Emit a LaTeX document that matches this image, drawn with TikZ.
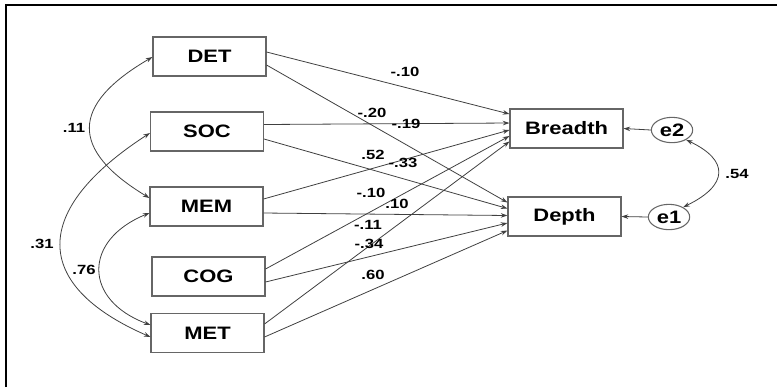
\documentclass[tikz,border=0pt]{standalone}
\usepackage{fontspec}
\setmainfont{Liberation Sans}
\newfontfamily\boxfont[FakeStretch=1.22]{Liberation Sans}
\newfontfamily\lblfont[FakeStretch=1.25]{Liberation Sans}
\usetikzlibrary{arrows.meta,calc,shapes.geometric}
\begin{document}
\begin{tikzpicture}[x=0.75pt,y=-0.75pt,
  var/.style={draw=black!60, line width=0.8pt, fill=white, rectangle,
    minimum width=84.75pt, minimum height=29.25pt, inner sep=0pt,
    font=\boxfont\bfseries\fontsize{13.5}{15}\selectfont},
  err/.style={draw=black!60, line width=0.8pt, fill=white, ellipse,
    minimum width=31pt, minimum height=19pt, inner sep=0pt,
    font=\boxfont\bfseries\fontsize{13.5}{15}\selectfont},
  path/.style={draw=black!75, line width=0.6pt, -{Stealth[length=5pt,width=3.4pt]}},
  cov/.style={draw=black!75, line width=0.6pt, {Stealth[length=5pt,width=3.4pt]}-{Stealth[length=5pt,width=3.4pt]}},
  lbl/.style={inner sep=0pt, font=\lblfont\bfseries\fontsize{10}{12}\selectfont},
  frame/.style={line width=2.2pt, black}]
\useasboundingbox (0,0) rectangle (777,387);
% frame
\draw[frame] (6,387) -- (6,5) -- (777,5);
% boxes
\node[var] (DET) at (209.5,56.5) {DET};
\node[var] (SOC) at (207,131.5) {SOC};
\node[var] (MEM) at (206.5,206.5) {MEM};
\node[var] (COG) at (208.5,276.5) {COG};
\node[var] (MET) at (207.5,333) {MET};
\node[var] (BR) at (566.5,128.5) {Breadth};
\node[var] (DE) at (564.5,216.5) {Depth};
\node[err] (e2) at (672,130) {e2};
\node[err] (e1) at (669,217) {e1};
% paths to Breadth
\draw[path] ($(DET.east)+(0,-4.5)$) -- ($(BR.west)+(0,-14.5)$);
\draw[path] ($(SOC.east)+(0,-7)$) -- ($(BR.west)+(0,-5.5)$);
\draw[path] ($(MEM.east)+(0,-7.5)$) -- ($(BR.west)+(0,1.5)$);
\draw[path] ($(COG.east)+(0,-7.5)$) -- ($(BR.west)+(0,7.5)$);
\draw[path] ($(MET.east)+(0,-9)$) -- ($(BR.west)+(0,13)$);
% paths to Depth
\draw[path] ($(DET.east)+(0,8.5)$) -- ($(DE.west)+(0,-14)$);
\draw[path] ($(SOC.east)+(0,7.5)$) -- ($(DE.west)+(0,-8)$);
\draw[path] ($(MEM.east)+(0,6.5)$) -- ($(DE.west)+(0,-1)$);
\draw[path] ($(COG.east)+(0,5.5)$) -- ($(DE.west)+(0,6.5)$);
\draw[path] ($(MET.east)+(0,4)$) -- ($(DE.west)+(0,14)$);
% error terms
\draw[path] (e2.west) -- (BR.east);
\draw[path] (e1.west) -- (DE.east);
% covariances
\draw[cov] ($(DET.west)+(0,0.5)$) .. controls (70,105) and (70,150) .. ($(MEM.west)+(0,-8.5)$);
\draw[cov] ($(SOC.west)+(0,1.5)$) .. controls (31,210) and (31,285) .. ($(MET.west)+(0,4)$);
\draw[cov] ($(MEM.west)+(0,6.5)$) .. controls (83,240) and (83,300) .. ($(MET.west)+(0,-8)$);
\draw[cov] (e2.-35) .. controls (729,160) and (729,185) .. (e1.35);
% labels
\node[lbl] (l1) at (405,72) {-.10};
\node[lbl] (l2) at (372,113) {-.20};
\node[lbl] (l3) at (406,124) {-.19};
\node[lbl] (l4) at (373,155) {.52};
\node[lbl] (l5) at (403,163) {-.33};
\node[lbl] (l6) at (371,193) {-.10};
\node[lbl] (l7) at (397,204) {.10};
\node[lbl] (l8) at (368,225) {-.11};
\node[lbl] (l9) at (369,244) {-.34};
\node[lbl] (l10) at (373,275) {.60};
\node[lbl] (l11) at (74,128) {.11};
\node[lbl] (l12) at (42,244) {.31};
\node[lbl] (l13) at (84,270) {.76};
\node[lbl] (l14) at (737,174) {.54};
\end{tikzpicture}
\end{document}
